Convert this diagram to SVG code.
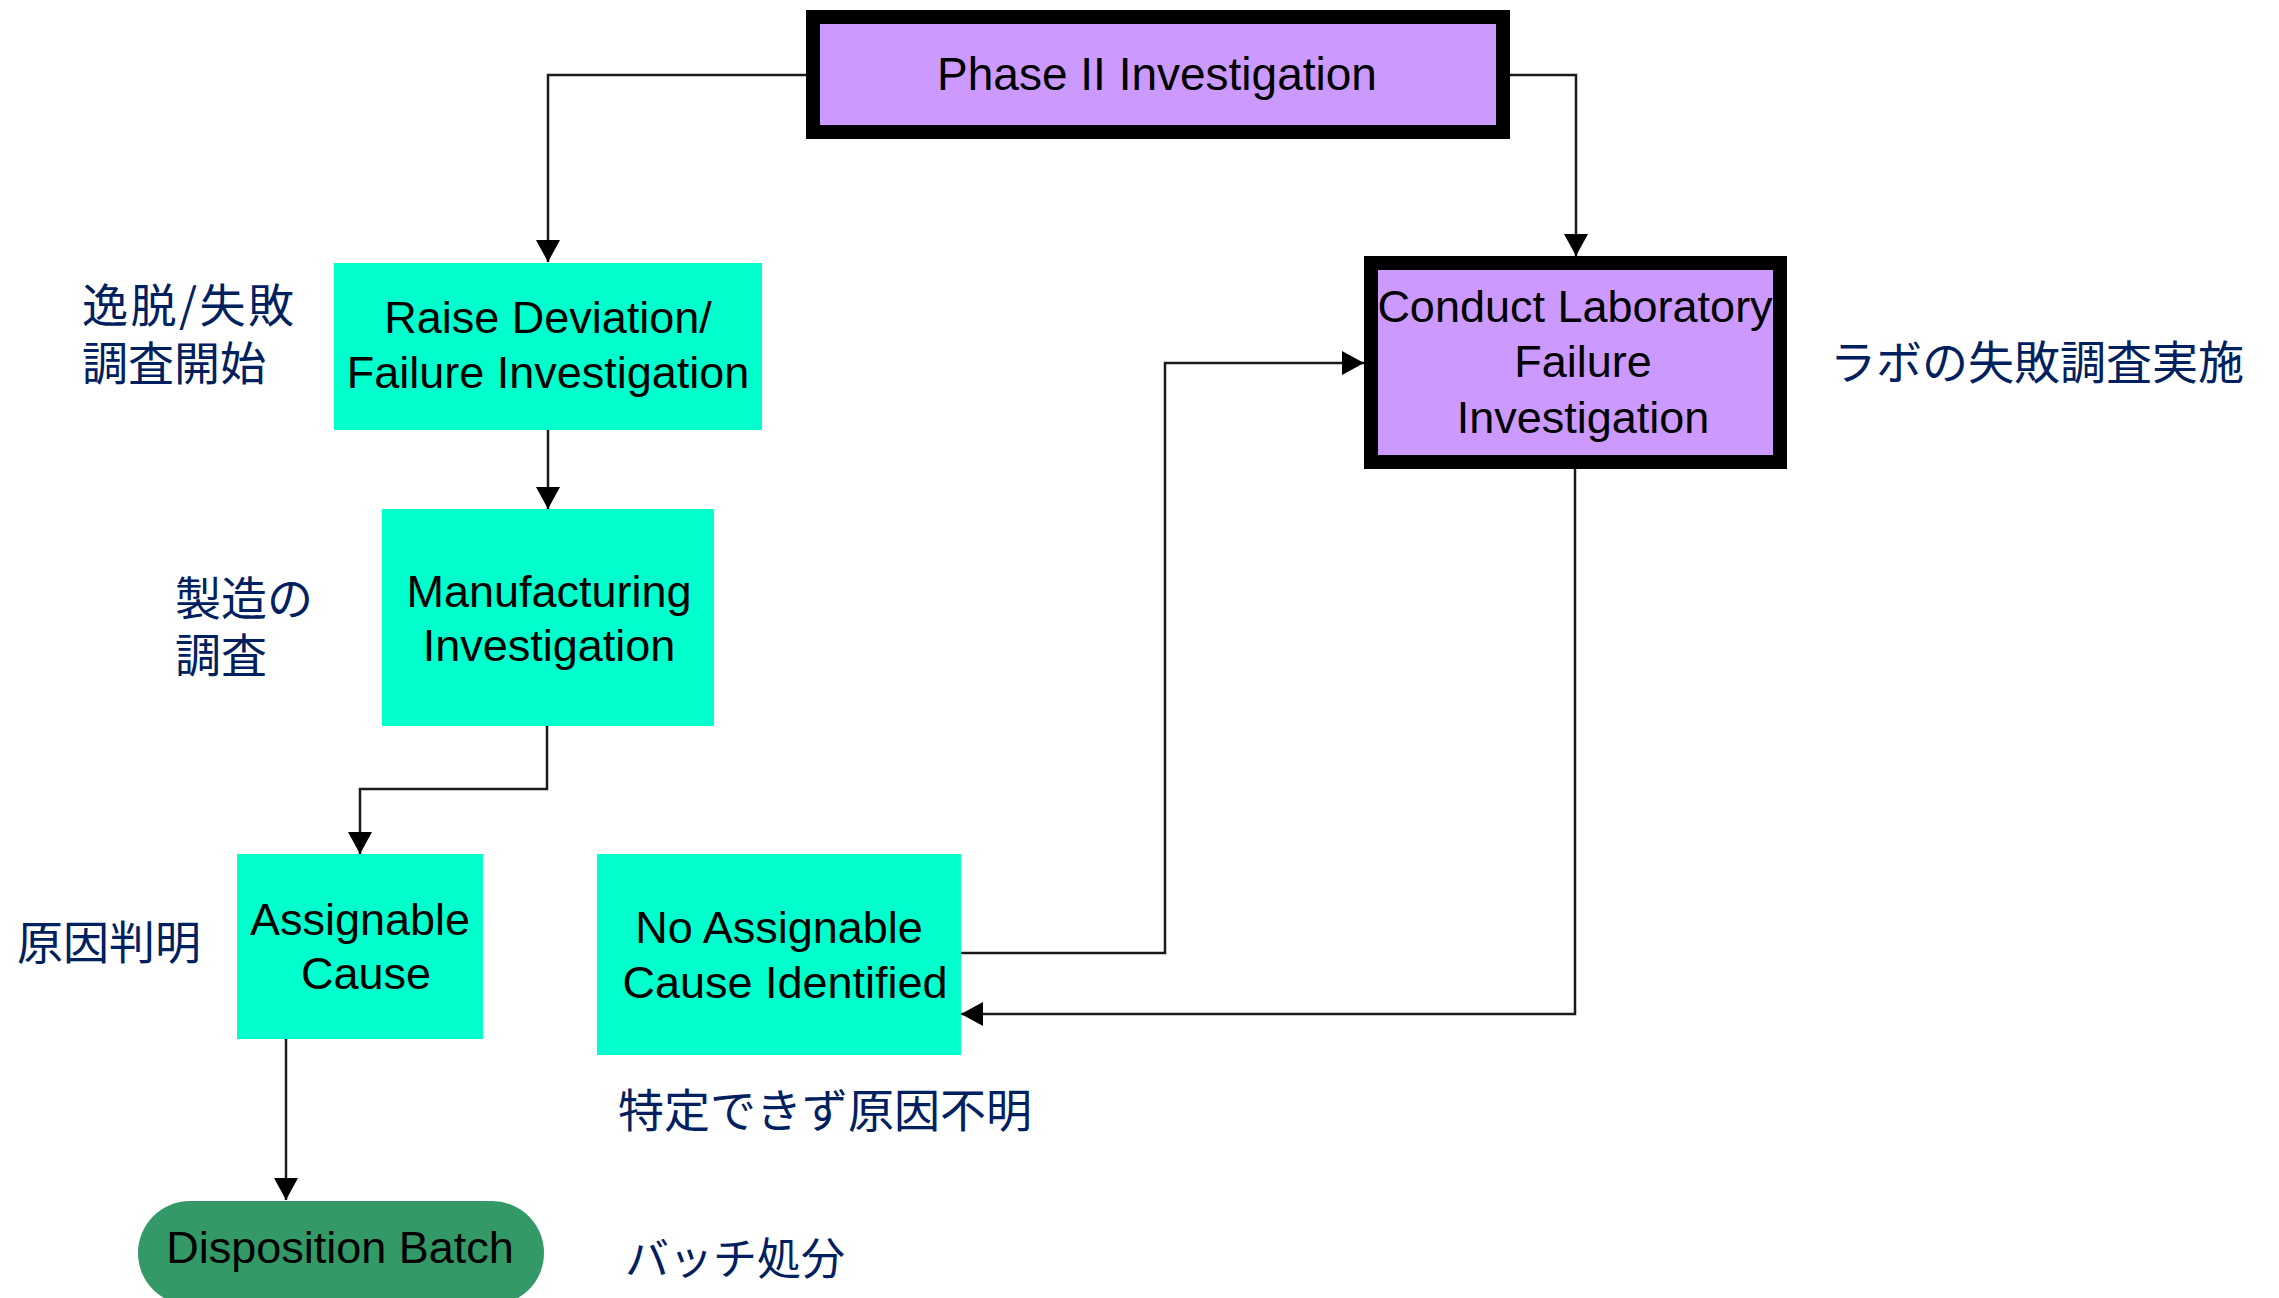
<svg xmlns="http://www.w3.org/2000/svg" width="2279" height="1298" viewBox="0 0 2279 1298">
  <style>
    .lbl { font-family: "Liberation Sans", Arial, sans-serif; font-size: 45px; fill: #000; text-anchor: middle; }
    .jp { font-family: "Noto Sans CJK JP", "Noto Sans", sans-serif; font-size: 46px; fill: #002060; }
    .step { fill: #00FFCC; }
    .phase { fill: #CC99FF; stroke: #000; stroke-width: 14; }
    .wire { fill: none; stroke: #1a1a1a; stroke-width: 2.5; }
  </style>
  <defs>
    <marker id="arrow" markerUnits="userSpaceOnUse" markerWidth="24" markerHeight="24" viewBox="0 0 24 24" refX="22" refY="12" orient="auto">
      <path d="M0,0 L22,12 L0,24 Z" fill="#000"/>
    </marker>
  </defs>
  <rect width="2279" height="1298" fill="#fff"/>

  <!-- connectors -->
  <g id="connectors" class="wire" marker-end="url(#arrow)">
    <path d="M806,75 H548 V262"/>
    <path d="M1510,75 H1576 V256"/>
    <path d="M548,430 V509"/>
    <path d="M547,726 V789 H360 V854"/>
    <path d="M286,1039 V1200"/>
    <path d="M961,953 H1165 V363 H1364"/>
    <path d="M1575,469 V1014 H961"/>
  </g>

  <!-- nodes -->
  <g id="phase2">
    <rect class="phase" x="813" y="17" width="690" height="115"/>
    <text class="lbl" x="1157" y="90" style="font-size:46px">Phase II Investigation</text>
  </g>

  <g id="raise-deviation">
    <rect class="step" x="334" y="263" width="428" height="167"/>
    <text class="lbl" x="548" y="333">Raise Deviation/</text>
    <text class="lbl" x="548" y="388">Failure Investigation</text>
  </g>

  <g id="manufacturing">
    <rect class="step" x="382" y="509" width="332" height="217"/>
    <text class="lbl" x="549" y="607">Manufacturing</text>
    <text class="lbl" x="549" y="661">Investigation</text>
  </g>

  <g id="assignable">
    <rect class="step" x="237" y="854" width="246" height="185"/>
    <text class="lbl" x="360" y="935">Assignable</text>
    <text class="lbl" x="366" y="989">Cause</text>
  </g>

  <g id="no-assignable">
    <rect class="step" x="597" y="854" width="364" height="201"/>
    <text class="lbl" x="779" y="943">No Assignable</text>
    <text class="lbl" x="785" y="998">Cause Identified</text>
  </g>

  <g id="lab-investigation">
    <rect class="phase" x="1371" y="263" width="409" height="199"/>
    <text class="lbl" x="1575" y="322">Conduct Laboratory</text>
    <text class="lbl" x="1583" y="377">Failure</text>
    <text class="lbl" x="1583" y="433">Investigation</text>
  </g>

  <g id="disposition">
    <rect x="138" y="1201" width="406" height="104" rx="52" ry="52" fill="#339966"/>
    <text class="lbl" x="340" y="1263">Disposition Batch</text>
  </g>

  <!-- Japanese annotations -->
  <g id="notes">
    <text class="jp" x="82" y="322"><tspan style="letter-spacing:2.5px">逸脱/失敗</tspan><tspan x="82" dy="58">調査開始</tspan></text>
    <text class="jp" x="175" y="615">製造の<tspan x="175" dy="57">調査</tspan></text>
    <text class="jp" x="17" y="959">原因判明</text>
    <text class="jp" x="1830" y="379">ラボの失敗調査実施</text>
    <text class="jp" x="618" y="1127">特定できず原因不明</text>
    <text class="jp" x="625" y="1275" style="font-size:44px">バッチ処分</text>
  </g>
</svg>
